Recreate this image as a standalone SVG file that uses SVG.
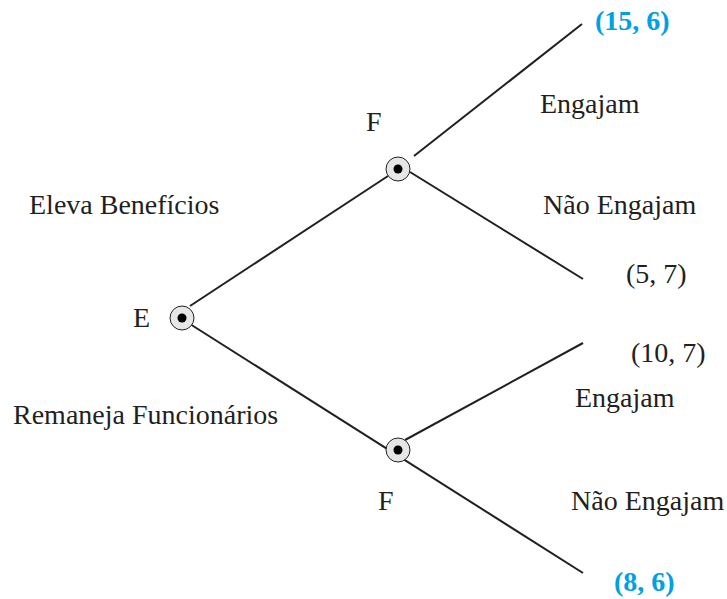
<svg xmlns="http://www.w3.org/2000/svg" width="727" height="599" viewBox="0 0 727 599">
<style>
.t{font-family:"Liberation Serif","Times New Roman",serif;font-size:28px;fill:#231f20}
.p{font-family:"Liberation Serif","Times New Roman",serif;font-size:28px;font-weight:bold;fill:#00a0e3}
.e{stroke:#231f20;stroke-width:2;fill:none}
.ring{fill:#e6e6e6;stroke:#231f20;stroke-width:1}
.dot{fill:#000}
</style>
<rect width="727" height="599" fill="#fff"/>
<g id="connectors">
<line class="e" x1="190" y1="306" x2="388" y2="176"/>
<line class="e" x1="190" y1="324" x2="583" y2="573"/>
<line class="e" x1="414" y1="156" x2="582" y2="24"/>
<line class="e" x1="410" y1="172" x2="583" y2="279"/>
<line class="e" x1="405" y1="440" x2="583" y2="343"/>
</g>
<g id="nodeE"><circle class="ring" cx="182" cy="318" r="12"/><circle class="dot" cx="182" cy="318" r="4.5"/></g>
<g id="nodeF1"><circle class="ring" cx="398" cy="169" r="12"/><circle class="dot" cx="398" cy="169" r="4.5"/></g>
<g id="nodeF2"><circle class="ring" cx="398" cy="450" r="12"/><circle class="dot" cx="398" cy="450" r="4.5"/></g>
<g id="labels">
<text class="p" x="595" y="30">(15, 6)</text>
<text class="t" x="540" y="113">Engajam</text>
<text class="t" x="366" y="131">F</text>
<text class="t" x="29" y="214">Eleva Benefícios</text>
<text class="t" x="543" y="214">Não Engajam</text>
<text class="t" x="626" y="283">(5, 7)</text>
<text class="t" x="133" y="327">E</text>
<text class="t" x="631" y="362">(10, 7)</text>
<text class="t" x="575" y="407">Engajam</text>
<text class="t" x="13" y="424">Remaneja Funcionários</text>
<text class="t" x="378" y="510">F</text>
<text class="t" x="571" y="510">Não Engajam</text>
<text class="p" x="614" y="591">(8, 6)</text>
</g>
</svg>
